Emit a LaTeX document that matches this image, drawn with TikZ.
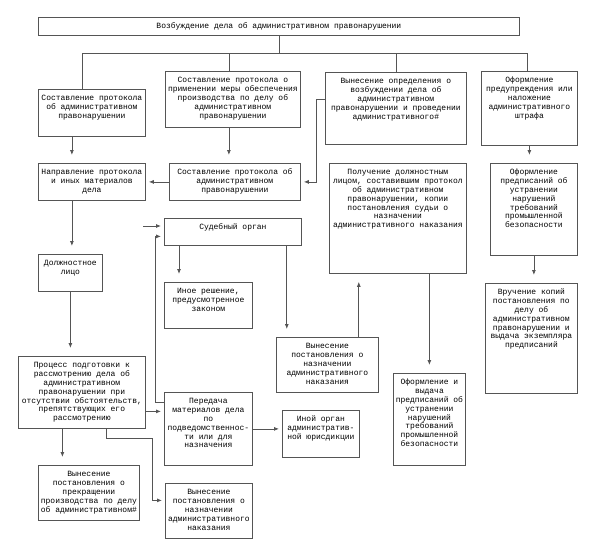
\documentclass[tikz,border=0pt]{standalone}
\usepackage{fontspec}
\setmainfont{Liberation Mono}
\usetikzlibrary{arrows.meta}
\definecolor{schemeLine}{RGB}{85,85,85}
\newcommand{\boxtext}[3]{\parbox[c][\dimexpr#2pt-4pt\relax][t]{\dimexpr#1pt-4pt\relax}{\centering\rule{0pt}{9.5pt}#3}}

\begin{document}
\begin{tikzpicture}[x=1pt, y=-1pt,
    blockbox/.style={rectangle, draw=schemeLine, line width=0.8pt, inner sep=2pt,
    anchor=north west, font=\fontsize{8}{8.8}\selectfont},
    link/.style={draw=schemeLine, line width=0.8pt},
    arrow/.style={link, -{Latex[length=5pt,width=4pt]}, shorten >=8pt},
    sidearrow/.style={link, -{Latex[length=5pt,width=4pt]}, shorten >=3pt}
]
\useasboundingbox (0,0) rectangle (597,554);

% first level
\node[blockbox] (root) at (38,17) {\boxtext{481}{18}{Возбуждение дела об административном правонарушении}};
\node[blockbox] (b1) at (38,89) {\boxtext{107}{47}{Составление протокола\\об административном\\правонарушении}};
\node[blockbox] (b2) at (165,71) {\boxtext{135}{56}{Составление протокола о\\применении меры обеспечения\\производства по делу об\\административном\\правонарушении}};
\node[blockbox] (b3) at (325,72) {\boxtext{141}{72}{Вынесение определения о\\возбуждении дела об\\административном\\правонарушении и проведении\\административного\#}};
\node[blockbox] (b4) at (481,71) {\boxtext{96}{74}{Оформление\\предупреждения или\\наложение\\административного\\штрафа}};

% second level
\node[blockbox] (b5) at (38,163) {\boxtext{107}{37}{Направление протокола\\и иных материалов\\дела}};
\node[blockbox] (b6) at (169,163) {\boxtext{131}{37}{Составление протокола об\\административном\\правонарушении}};
\node[blockbox] (b7) at (329,163) {\boxtext{137}{110}{Получение должностным\\лицом, составившим протокол\\об административном\\правонарушении, копии\\постановления судьи о\\назначении\\административного наказания}};
\node[blockbox] (b8) at (490,163) {\boxtext{87}{92}{Оформление\\предписаний об\\устранении\\нарушений\\требований\\промышленной\\безопасности}};
\node[blockbox] (b9) at (485,283) {\boxtext{92}{110}{Вручение копий\\постановления по\\делу об\\административном\\правонарушении и\\выдача экземпляра\\предписаний}};

% court and further decisions
\node[blockbox] (b10) at (164,218) {\boxtext{137}{27}{Судебный орган}};
\node[blockbox] (b11) at (164,282) {\boxtext{88}{46}{Иное решение,\\предусмотренное\\законом}};
\node[blockbox] (b12) at (276,337) {\boxtext{102}{55}{Вынесение\\постановления о\\назначении\\административного\\наказания}};
\node[blockbox] (b13) at (393,373) {\boxtext{72}{92}{Оформление и\\выдача\\предписаний об\\устранении\\нарушений\\требований\\промышленной\\безопасности}};

% official's branch
\node[blockbox] (b14) at (38,254) {\boxtext{64}{37}{Должностное\\лицо}};
\node[blockbox] (b15) at (18,356) {\boxtext{127}{72}{Процесс подготовки к\\рассмотрению дела об\\административном\\правонарушении при\\отсутствии обстоятельств,\\препятствующих его\\рассмотрению}};
\node[blockbox] (b16) at (164,392) {\boxtext{88}{73}{Передача\\материалов дела\\по\\подведомственнос-\\ти или для\\назначения}};
\node[blockbox] (b17) at (165,483) {\boxtext{87}{55}{Вынесение\\постановления о\\назначении\\административного\\наказания}};
\node[blockbox] (b18) at (38,465) {\boxtext{101}{55}{Вынесение\\постановления о\\прекращении\\производства по делу\\об административном\#}};
\node[blockbox] (b19) at (282,410) {\boxtext{77}{47}{Иной орган\\административ-\\ной юрисдикции}};

% bus under the root
\coordinate (busL) at (82,53);
\coordinate (busR) at (527,53);
\coordinate (court-in) at (143,226);
\draw[link] (busL) -- (busR);
\draw[link] (root) -- (root |- busL);
\draw[link] (busL) -- (busL |- b1.north);
\draw[link] ([xshift=-4pt]b2.north) -- ([xshift=-4pt]b2.north |- busL);
\draw[link] (b3.north) -- (b3.north |- busL);
\draw[link] (busR) -- (busR |- b4.north);

\draw[arrow] ([xshift=-20pt]b1.south) -- ([xshift=-20pt]b5.north);
\draw[arrow] ([xshift=-4pt]b2.south) -- ([xshift=-4pt]b2.south |- b6.north);
\draw[sidearrow] (b6.west) -- (b5.east);
\draw[sidearrow] ([yshift=9pt]b3.west) -- ++(-9,0) |- (b6.east);
\draw[arrow] (b4.south) -- (b4.south |- b8.north);
\draw[arrow] (b8.south) -- (b8.south |- b9.north);
\draw[arrow] ([xshift=-20pt]b5.south) -- ([xshift=-20pt]b5.south |- b14.north);
\draw[arrow] (b14.south) -- (b14.south |- b15.north);
\draw[sidearrow] (court-in) -- (court-in -| b10.west);
\draw[sidearrow] ([yshift=-10pt]b16.north west) -- ++(-9,0) |- ([yshift=-4.5pt]b10.west);
\draw[arrow] ([xshift=15pt]b10.south west) -- ([xshift=15pt]b10.south west |- b11.north);
\draw[arrow] ([xshift=-15pt]b10.south east) -- ([xshift=-15pt]b10.south east |- b12.north);
\draw[arrow] ([xshift=-20pt]b12.north east) -- ([xshift=-20pt]b12.north east |- b7.south);
\draw[arrow] (b13.north |- b7.south) -- (b13.north);
\draw[sidearrow] ([yshift=-19pt]b15.east) -- ([yshift=-19pt]b15.east -| b16.west);
\draw[sidearrow] (b16.east) -- (b16.east -| b19.west);
\draw[sidearrow] ([xshift=24.5pt]b15.south) -- ++(0,10) -- ++(46,0) |- ([yshift=10.5pt]b17.west);
\draw[arrow] ([xshift=-19.5pt]b15.south) -- ([xshift=-19.5pt]b15.south |- b18.north);
\end{tikzpicture}
\end{document}
